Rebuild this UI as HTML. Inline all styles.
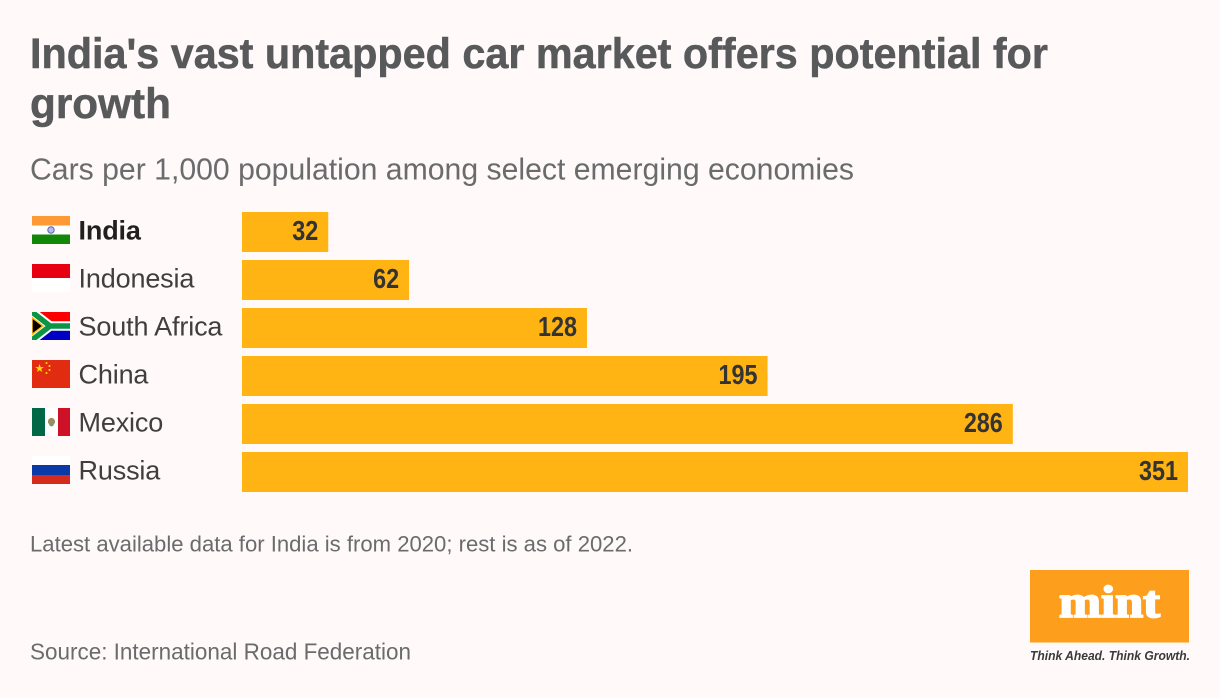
<!DOCTYPE html>
<html lang="en">
<head>
<meta charset="utf-8">
<title>India's vast untapped car market offers potential for growth</title>
<style>
html,body{margin:0;padding:0;background:#fff9f9;}
#chart{display:block;width:1220px;height:698px;font-family:"Liberation Sans",sans-serif;}
</style>
</head>
<body>
<svg id="chart" xmlns="http://www.w3.org/2000/svg" width="1220" height="698" viewBox="0 0 1220 698">
  <defs>
    <clipPath id="za-clip"><rect x="32" y="312" width="38" height="28"/></clipPath>
  </defs>
  <rect width="1220" height="698" fill="#fff9f9"/>
  <text x="30" y="68" font-size="42.5" font-weight="700" fill="#58595b" stroke="#58595b" stroke-width="0.5" textLength="1018" lengthAdjust="spacingAndGlyphs">India's vast untapped car market offers potential for</text>
  <text x="30" y="118" font-size="42.5" font-weight="700" fill="#58595b" stroke="#58595b" stroke-width="0.5" textLength="141" lengthAdjust="spacingAndGlyphs">growth</text>
  <text x="30" y="179.5" font-size="31" fill="#6a6b6d" textLength="824" lengthAdjust="spacingAndGlyphs">Cars per 1,000 population among select emerging economies</text>
  <g id="bars"></g>
  <g id="labels"></g>

  <g>
    <rect x="32" y="216" width="38" height="9.5" fill="#ff9933"/>
    <rect x="32" y="225.5" width="38" height="9" fill="#ffffff"/>
    <rect x="32" y="234.5" width="38" height="9.5" fill="#138808"/>
    <circle cx="51" cy="230" r="3.2" fill="#b9bce6" stroke="#5a60b8" stroke-width="1"/>
  </g>
  <g>
    <rect x="32" y="264" width="38" height="14" fill="#e70011"/>
    <rect x="32" y="278" width="38" height="14" fill="#ffffff"/>
  </g>
  <g clip-path="url(#za-clip)">
    <rect x="32" y="312" width="38" height="14" fill="#fb0000"/>
    <rect x="32" y="326" width="38" height="14" fill="#0000c4"/>
    <path d="M30 310.5 L50 326 L30 341.5 M50 326 H72" fill="none" stroke="#ffffff" stroke-width="9.5"/>
    <path d="M30 310.5 L50 326 L30 341.5 M50 326 H72" fill="none" stroke="#0a9445" stroke-width="5.5"/>
    <path d="M32 317.5 L43 326 L32 334.5 Z" fill="#000000" stroke="#fdb913" stroke-width="1.5"/>
  </g>
  <g>
    <rect x="32" y="360" width="38" height="28" fill="#e22c12"/>
    <text x="39.5" y="372" font-size="11" fill="#ffde00" text-anchor="middle">★</text>
    <circle cx="46.5" cy="363" r="1" fill="#ffde00"/>
    <circle cx="49.5" cy="366" r="1" fill="#ffde00"/>
    <circle cx="49.5" cy="370" r="1" fill="#ffde00"/>
    <circle cx="46.5" cy="373" r="1" fill="#ffde00"/>
  </g>
  <g>
    <rect x="32" y="408" width="13" height="28" fill="#006847"/>
    <rect x="45" y="408" width="13" height="28" fill="#ffffff"/>
    <rect x="58" y="408" width="12" height="28" fill="#ce1126"/>
    <circle cx="51.5" cy="421.5" r="3.6" fill="#a68a5b"/>
    <circle cx="51.5" cy="424" r="2.4" fill="#7f9a6a"/>
  </g>
  <g>
    <rect x="32" y="456" width="38" height="9" fill="#ffffff"/>
    <rect x="32" y="465" width="38" height="10" fill="#0a3aa8"/>
    <rect x="32" y="475" width="38" height="9" fill="#d52b1e"/>
  </g>

  <text x="30" y="551.5" font-size="22.5" fill="#6a6b6d" textLength="603" lengthAdjust="spacingAndGlyphs">Latest available data for India is from 2020; rest is as of 2022.</text>
  <text x="30" y="659.5" font-size="23.5" fill="#6a6b6d" textLength="381" lengthAdjust="spacingAndGlyphs">Source: International Road Federation</text>

  <g>
    <rect x="1030" y="570" width="159" height="72.5" fill="#fd9f1c"/>
    <text x="1059" y="617" font-family="'Liberation Serif',serif" font-size="45" font-weight="700" fill="#ffffff" stroke="#ffffff" stroke-width="1.8" textLength="101" lengthAdjust="spacingAndGlyphs">mint</text>
    <text x="1030" y="660" font-size="13" font-weight="700" font-style="italic" fill="#3a3a3c" textLength="160" lengthAdjust="spacingAndGlyphs">Think Ahead. Think Growth.</text>
  </g>
</svg>
<script>
const categories = ["India", "Indonesia", "South Africa", "China", "Mexico", "Russia"];
const carsPerThousand = [32, 62, 128, 195, 286, 351];
const valueLabels = ["32", "62", "128", "195", "286", "351"];

const NS = "http://www.w3.org/2000/svg";
const barsGroup = document.getElementById("bars");
const labelsGroup = document.getElementById("labels");
const plotLeft = 242;
const plotWidth = 946;
const domainMax = 351;
const rowTop = 212;
const rowStep = 48;
const barHeight = 40;

function xScale(v) { return plotWidth * v / domainMax; }
function yScale(i) { return rowTop + rowStep * i; }

categories.forEach(function (cat, i) {
  const slug = cat.toLowerCase().replace(/\s+/g, "-");
  const y = yScale(i);
  const w = xScale(carsPerThousand[i]);

  const bar = document.createElementNS(NS, "rect");
  
  
  bar.setAttribute("x", plotLeft);
  bar.setAttribute("y", y);
  bar.setAttribute("width", w);
  bar.setAttribute("height", barHeight);
  bar.setAttribute("fill", "#ffb414");
  barsGroup.appendChild(bar);

  const val = document.createElementNS(NS, "text");
  
  
  val.setAttribute("x", plotLeft + w - 10);
  val.setAttribute("y", y + 28);
  val.setAttribute("font-size", "28");
  val.setAttribute("font-weight", "700");
  val.setAttribute("fill", "#333333");
  val.setAttribute("text-anchor", "end");
  val.setAttribute("textLength", String(valueLabels[i].length * 13));
  val.setAttribute("lengthAdjust", "spacingAndGlyphs");
  val.textContent = valueLabels[i];
  barsGroup.appendChild(val);

  const lab = document.createElementNS(NS, "text");
  
  
  lab.setAttribute("x", 78.5);
  lab.setAttribute("y", y + 27.5);
  lab.setAttribute("font-size", "27");
  lab.setAttribute("letter-spacing", "-0.15");
  lab.setAttribute("fill", i === 0 ? "#231f20" : "#403e3f");
  if (i === 0) lab.setAttribute("font-weight", "700");
  lab.textContent = cat;
  labelsGroup.appendChild(lab);
});
</script>
</body>
</html>
